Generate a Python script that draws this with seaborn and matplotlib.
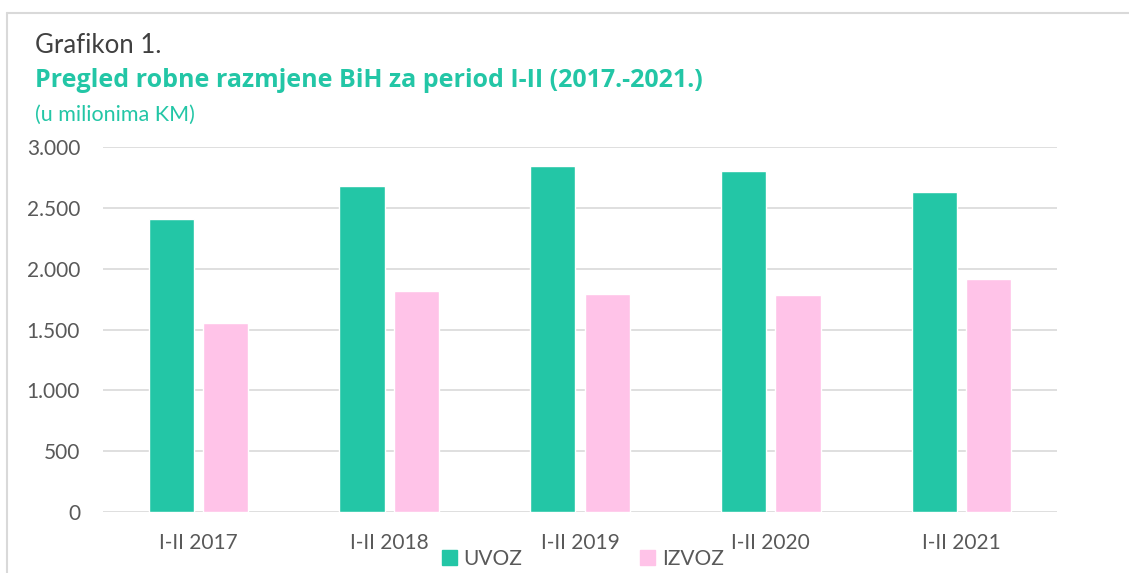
import numpy as np
import pandas as pd
import matplotlib.pyplot as plt
import matplotlib.ticker as mticker
from matplotlib.lines import Line2D
import seaborn as sns

# values (u milionima KM)
periods = ["I-II 2017", "I-II 2018", "I-II 2019", "I-II 2020", "I-II 2021"]
uvoz = [2412, 2677, 2844, 2806, 2630]
izvoz = [1550, 1817, 1788, 1782, 1913]
series = ["UVOZ", "IZVOZ"]
colors = ["#23C6A6", "#FFC3E8"]

df = pd.DataFrame({
    "period": periods * 2,
    "tip": ["UVOZ"] * len(periods) + ["IZVOZ"] * len(periods),
    "value": uvoz + izvoz,
})

sns.set_style("white")
plt.rcParams["font.family"] = ["Lato", "DejaVu Sans"]

fig = plt.figure(figsize=(11.29, 5.73), dpi=100)
ax = fig.add_axes([103 / 1129, 1 - 512 / 573, (1057 - 103) / 1129, (512 - 147) / 573])

sns.barplot(data=df, x="period", y="value", hue="tip", hue_order=series,
            palette=colors, width=0.57, gap=0.17, saturation=1, ax=ax)

ax.set_ylim(0, 3000)
ax.set_yticks(np.arange(0, 3001, 500))
ax.yaxis.set_major_formatter(mticker.FuncFormatter(lambda v, p: f"{int(v):,}".replace(",", ".")))
ax.grid(axis="y", color="#D9D9D9", linewidth=1.2)
ax.set_axisbelow(True)
for s in ax.spines.values():
    s.set_visible(False)
ax.tick_params(axis="y", length=0, pad=16.5, labelsize=15, labelcolor="#595959")
ax.tick_params(axis="x", length=0, pad=15, labelsize=15, labelcolor="#595959")
ax.set_xlabel("")
ax.set_ylabel("")
ax.get_legend().remove()

handles = [plt.Rectangle((0, 0), 1, 1, color=c) for c in colors]
fig.legend(handles, series, loc="center", bbox_to_anchor=(0.516, 1 - 559 / 573),
           ncol=2, frameon=False, fontsize=15, labelcolor="#595959",
           handlelength=0.72, handleheight=0.72, handletextpad=0.3, columnspacing=5.7)

# titles
fig.text(35 / 1129, 1 - 53 / 573, "Grafikon 1.", fontsize=18.5, color="#404040", va="baseline")
fig.text(35 / 1129, 1 - 87 / 573, "Pregled robne razmjene BiH za period I-II (2017.-2021.)",
         fontsize=18, fontweight="bold", color="#23C6A6", va="baseline",
         family=["Open Sans", "DejaVu Sans"])
fig.text(35 / 1129, 1 - 121 / 573, "(u milionima KM)", fontsize=15.5, color="#23C6A6", va="baseline")

# outer frame (left and top edges)
fig.add_artist(Line2D([7 / 1129, 7 / 1129], [0, 1 - 13 / 573], color="#D9D9D9", lw=1.5))
fig.add_artist(Line2D([7 / 1129, 1], [1 - 13 / 573, 1 - 13 / 573], color="#D9D9D9", lw=1.5))

fig.savefig("out.png", dpi=100)
